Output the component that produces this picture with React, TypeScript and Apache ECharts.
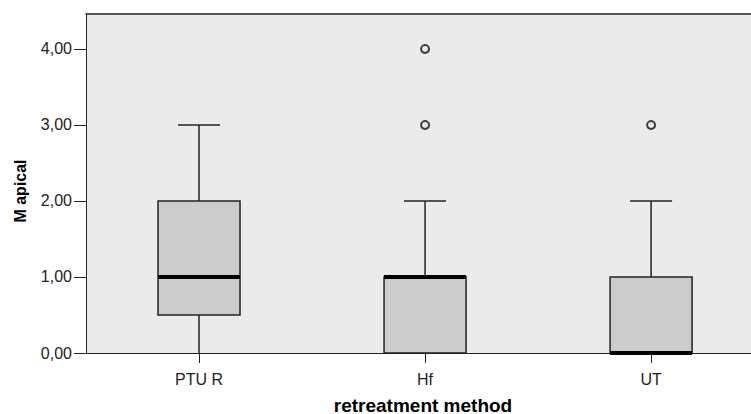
import React, { useEffect, useRef } from "react";
import * as echarts from "echarts";

const categories = ["PTU R", "Hf", "UT"];
// [min, q1, median, q3, max]
const boxStats = [
  [0, 0.5, 1, 2, 3],
  [0, 0, 1, 1, 2],
  [0, 0, 0, 1, 2],
];
const outliers = [
  [1, 3],
  [1, 4],
  [2, 3],
];
const yTicks = [0, 1, 2, 3, 4];
const xTicks = [0, 1, 2];

export default function App() {
  const ref = useRef<HTMLDivElement>(null);
  useEffect(() => {
    const chart = echarts.init(ref.current!, null, { renderer: "svg" });
    const font = "Liberation Sans, Arial, sans-serif";
    const yMin = 0;
    chart.setOption({
      animation: false,
      grid: {
        left: 86,
        top: 14,
        right: 0,
        height: 339,
        show: true,
        backgroundColor: "#ebebeb",
        borderWidth: 0,
      },
      xAxis: [
        {
          type: "value",
          min: -0.5,
          max: 2.442,
          axisLine: { show: true, onZero: false, lineStyle: { color: "#222", width: 1 } },
          axisTick: { show: true, length: 10, customValues: xTicks, lineStyle: { color: "#222" } },
          axisLabel: {
            color: "#222",
            fontSize: 16,
            fontFamily: font,
            margin: 18,
            customValues: xTicks,
            formatter: (v: number) => categories[Math.round(v)] ?? "",
          },
          splitLine: { show: false },
        },
        {
          type: "value",
          position: "top",
          min: -0.5,
          max: 2.442,
          axisLine: { show: true, onZero: false, lineStyle: { color: "#222", width: 1.5 } },
          axisTick: { show: false },
          axisLabel: { show: false },
          splitLine: { show: false },
        },
      ],
      yAxis: {
        type: "value",
        min: yMin,
        max: 4.46,
        interval: 1,
        axisLine: { show: true, onZero: false, lineStyle: { color: "#222", width: 1 } },
        axisTick: { show: true, length: 12, customValues: yTicks, lineStyle: { color: "#222" } },
        axisLabel: {
          color: "#222",
          fontSize: 16,
          fontFamily: font,
          margin: 14,
          customValues: yTicks,
          formatter: (v: number) => v.toFixed(2).replace(".", ","),
        },
        splitLine: { show: false },
      },
      graphic: [
        {
          type: "text",
          x: 20,
          y: 191,
          rotation: Math.PI / 2,
          style: {
            text: "M apical",
            fontSize: 16,
            fontWeight: "bold",
            fontFamily: font,
            fill: "#000",
            align: "center",
            verticalAlign: "middle",
          },
        },
        {
          type: "text",
          x: 423,
          y: 405,
          style: {
            text: "retreatment method",
            fontSize: 19,
            fontWeight: "bold",
            fontFamily: font,
            fill: "#000",
            align: "center",
            verticalAlign: "middle",
          },
        },
      ],
      series: [
        {
          type: "custom",
          data: boxStats.map((s, i) => [i, ...s]),
          encode: { x: 0, y: [1, 2, 3, 4, 5] },
          renderItem: (params: any, api: any) => {
            const idx = api.value(0);
            const vals = [1, 2, 3, 4, 5].map((k) => api.value(k));
            const pts = vals.map((v) => api.coord([idx, v]));
            const cx = pts[0][0];
            const halfBox = 41;
            const halfCap = 21;
            const [pMin, pQ1, pMed, pQ3, pMax] = pts.map((p: number[]) => p[1]);
            const stroke = { stroke: "#222", lineWidth: 1.5 };
            const children: any[] = [];
            if (pMax < pQ3) {
              children.push({ type: "line", shape: { x1: cx, y1: pQ3, x2: cx, y2: pMax }, style: stroke });
              children.push({ type: "line", shape: { x1: cx - halfCap, y1: pMax, x2: cx + halfCap, y2: pMax }, style: stroke });
            }
            if (pMin > pQ1) {
              children.push({ type: "line", shape: { x1: cx, y1: pQ1, x2: cx, y2: pMin }, style: stroke });
              if (vals[0] > yMin) {
                children.push({ type: "line", shape: { x1: cx - halfCap, y1: pMin, x2: cx + halfCap, y2: pMin }, style: stroke });
              }
            }
            children.push({
              type: "rect",
              shape: { x: cx - halfBox, y: pQ3, width: halfBox * 2, height: pQ1 - pQ3 },
              style: { fill: "#cccccc", stroke: "#222", lineWidth: 1.5 },
            });
            children.push({
              type: "line",
              shape: { x1: cx - halfBox, y1: pMed, x2: cx + halfBox, y2: pMed },
              style: { stroke: "#000", lineWidth: 4 },
            });
            return { type: "group", children };
          },
          z: 2,
        },
        {
          type: "scatter",
          data: outliers,
          symbol: "circle",
          symbolSize: 8,
          itemStyle: { color: "#ebebeb", borderColor: "#111", borderWidth: 2 },
          z: 3,
        },
      ],
    });
    return () => chart.dispose();
  }, []);
  return (
    <div
      ref={ref}
      style={{ position: "fixed", left: 0, top: 0, width: 751, height: 414, background: "#fff" }}
    />
  );
}
